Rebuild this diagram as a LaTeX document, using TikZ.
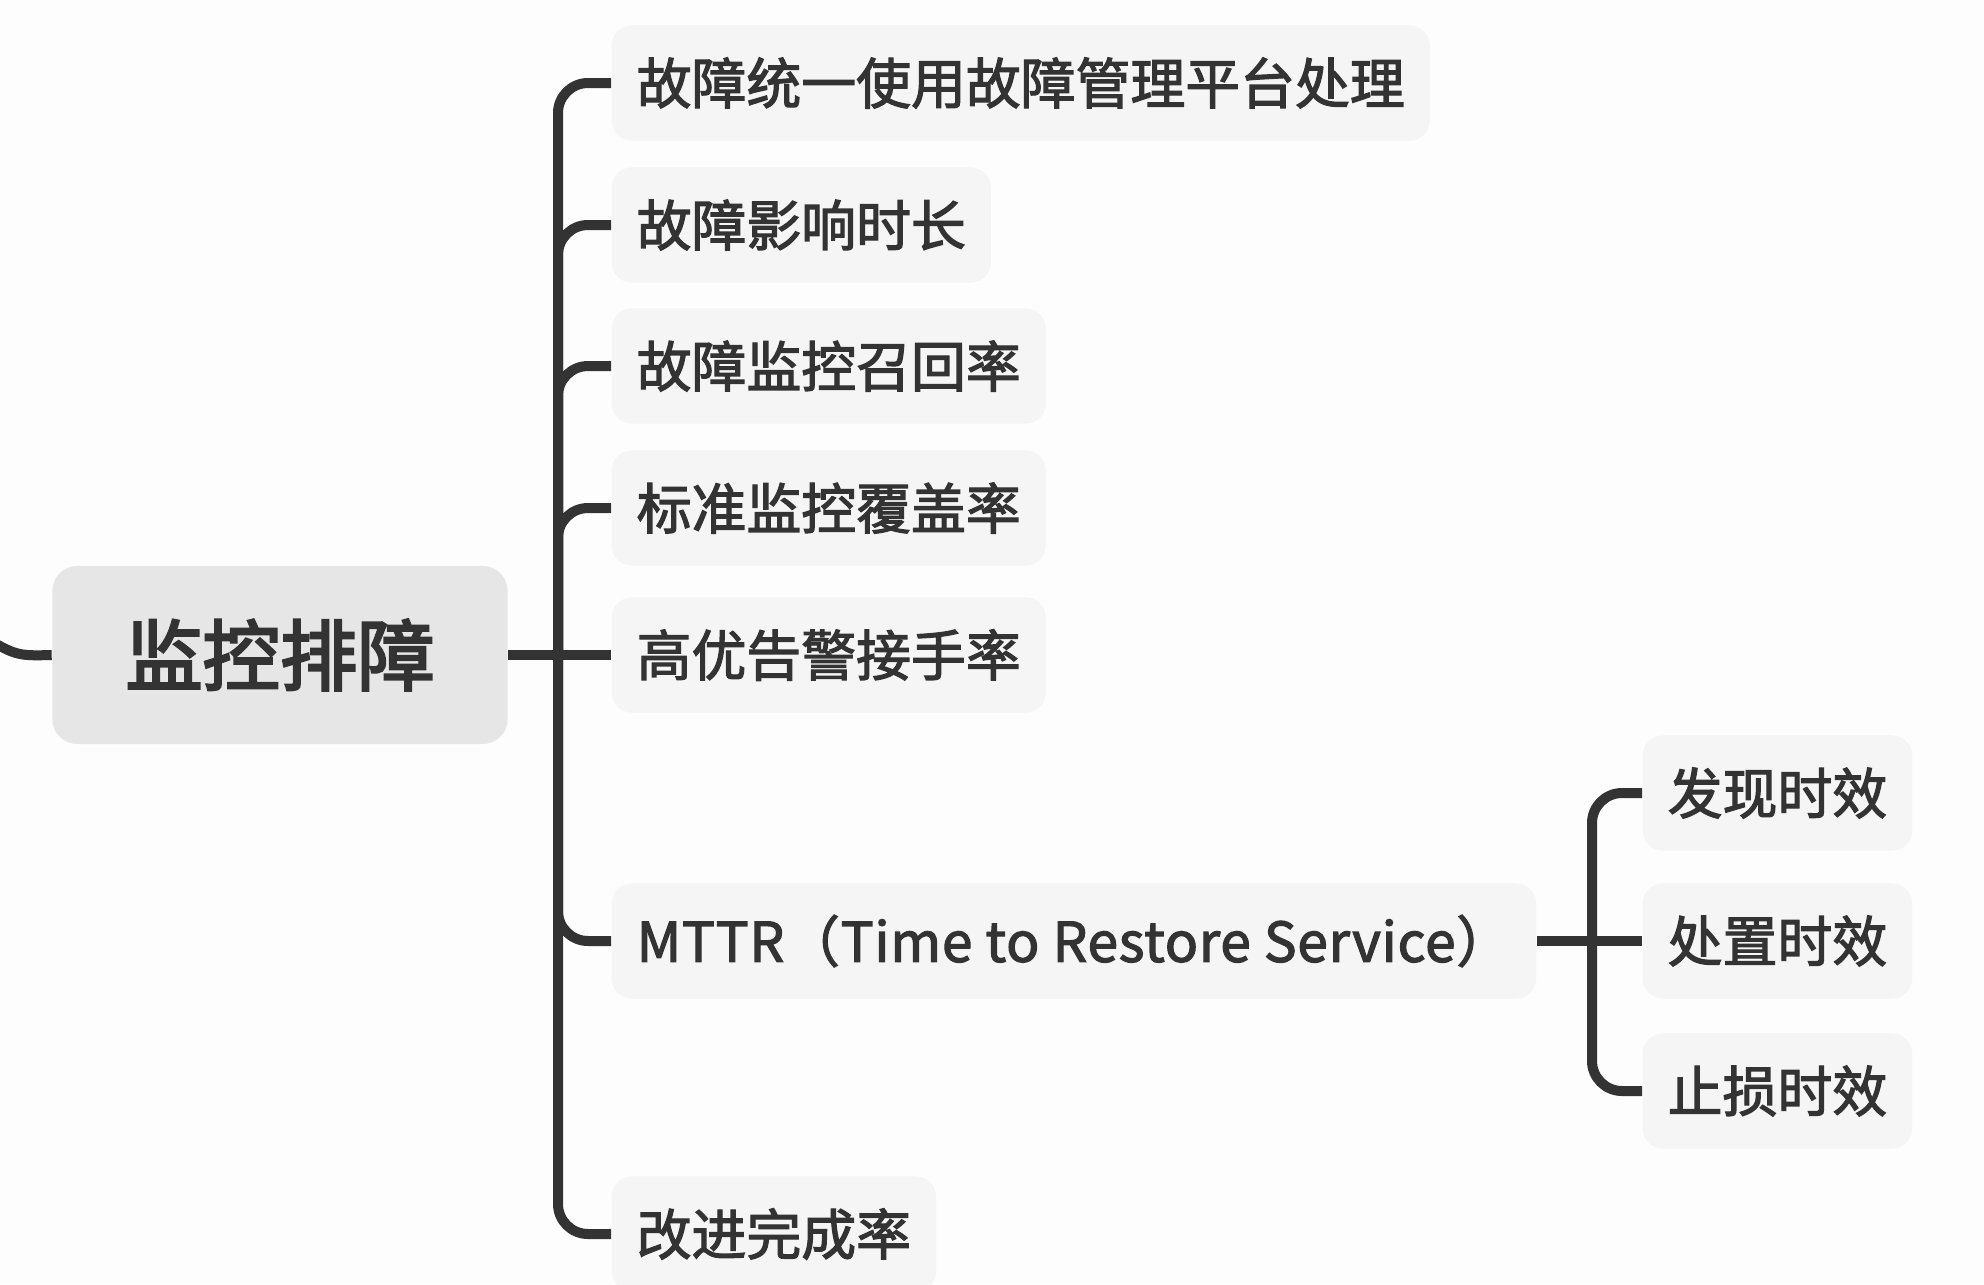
\documentclass[tikz,border=0pt]{standalone}
\usepackage{fontspec}
\setmainfont{Noto Sans CJK SC}
\newfontfamily\mapfont{Noto Sans CJK SC}[FakeBold=2.2]
\newfontfamily\rootfont{Noto Sans CJK SC}[FakeBold=3.2]
\usetikzlibrary{positioning}
\definecolor{inkgray}{HTML}{333333}
\definecolor{rootfill}{HTML}{E6E6E6}
\definecolor{topicfill}{HTML}{F5F5F5}
\definecolor{paper}{HTML}{FDFDFD}

\begin{document}
\begin{tikzpicture}[
  x=0.01cm, y=-0.01cm,
  branch/.style={line width=1mm, draw=inkgray, rounded corners=0.3cm},
  basebox/.style={rounded corners=0.2cm, fill=topicfill, text=inkgray, inner xsep=0.25cm,
                  inner ysep=0pt, minimum height=1.15cm,
                  font=\mapfont\fontsize{15.6pt}{18pt}\selectfont},
  rootbox/.style={basebox, fill=rootfill, rounded corners=0.25cm, minimum width=4.55cm,
                  minimum height=1.78cm, font=\rootfont\fontsize{22pt}{26pt}\selectfont},
  topicbox/.style={basebox, anchor=west},
  widebox/.style={topicbox, font=\mapfont\fontsize{15.6pt}{18pt}\selectfont\addfontfeature{LetterSpace=1.5}},
  subbox/.style={basebox, anchor=west}
]
\fill[paper, use as bounding box] (0,0) rectangle (1984,1284);

% central topic and its children
\node[rootbox]  (root) at (280,655)  {监控排障};
\node[topicbox] (t1)   at (611,83)   {故障统一使用故障管理平台处理};
\node[topicbox] (t2)   at (611,225)  {故障影响时长};
\node[topicbox] (t3)   at (611,366)  {故障监控召回率};
\node[topicbox] (t4)   at (611,508)  {标准监控覆盖率};
\node[topicbox] (t5)   at (611,655)  {高优告警接手率};
\node[widebox]  (t6)   at (611,941)  {MTTR（Time to Restore Service）};
\node[topicbox] (t7)   at (611,1234) {改进完成率};

% sub topics of MTTR
\node[subbox] (s1) at (1642,793)  {发现时效};
\node[subbox] (s2) at (1642,941)  {处置时效};
\node[subbox] (s3) at (1642,1091) {止损时效};

\coordinate (parent) at (-30,628);
\coordinate (hub)    at (558,655);
\coordinate (subhub) at (1592,941);

% branches
\draw[branch] (parent) .. controls (15,656) .. (root.west);
\draw[branch] (root.east) -- (t5.west);
\foreach \t in {t1,t2,t3,t4,t6,t7}
  \draw[branch] (hub) |- (\t.west);
\draw[branch] (t6.east) -- (s2.west);
\foreach \s in {s1,s3}
  \draw[branch] (subhub) |- (\s.west);

\end{tikzpicture}
\end{document}
